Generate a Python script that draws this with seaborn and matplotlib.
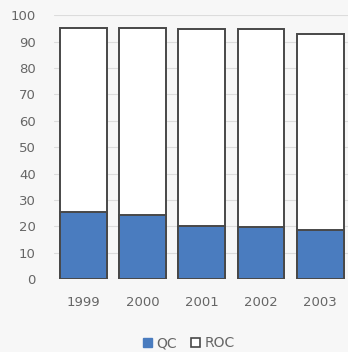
import matplotlib
matplotlib.use("Agg")
import matplotlib.pyplot as plt
import seaborn as sns
import pandas as pd
from matplotlib.patches import Patch

years = ["1999", "2000", "2001", "2002", "2003"]
qc = [25.5, 24.2, 20.3, 19.9, 18.8]
roc = [69.6, 70.9, 74.3, 74.7, 73.9]

df = pd.DataFrame({"year": years, "QC": qc, "ROC": roc})
df["total"] = df["QC"] + df["ROC"]

sns.set_style("white")
plt.rcParams["font.family"] = ["DejaVu Sans"]

bg = "#f7f7f7"
edge = "#484848"
blue = "#4a7cbf"

fig = plt.figure(figsize=(3.48, 3.52), dpi=100, facecolor=bg)
ax = fig.add_axes([0.155, 0.207, 0.85, 0.75], facecolor=bg)

sns.barplot(data=df, x="year", y="total", color="white", edgecolor=edge,
            linewidth=1.4, width=0.79, ax=ax, zorder=2)
sns.barplot(data=df, x="year", y="QC", color=blue, saturation=1, edgecolor=edge,
            linewidth=1.4, width=0.79, ax=ax, zorder=3)

ax.set_ylim(0, 100)
ax.set_yticks(range(0, 101, 10))
ax.set_xlim(-0.5, 4.5)
ax.yaxis.grid(True, color="#dcdcdc", linewidth=0.8, zorder=0)
ax.set_axisbelow(True)
for s in ax.spines.values():
    s.set_visible(False)
ax.set_xlabel("")
ax.set_ylabel("")
ax.tick_params(axis="both", length=0, labelsize=9.5, colors="#666666")
ax.tick_params(axis="y", pad=13)
ax.tick_params(axis="x", pad=12)

handles = [Patch(facecolor=blue, edgecolor=blue, label="QC"),
           Patch(facecolor="white", edgecolor=edge, linewidth=1.2, label="ROC")]
fig.legend(handles=handles, loc="center", bbox_to_anchor=(0.543, 0.025), ncol=2,
           frameon=False, fontsize=10, handlelength=0.65, handleheight=0.65,
           handletextpad=0.35, columnspacing=1.0, labelcolor="#666666")

fig.savefig("out.png", dpi=100, facecolor=bg)
